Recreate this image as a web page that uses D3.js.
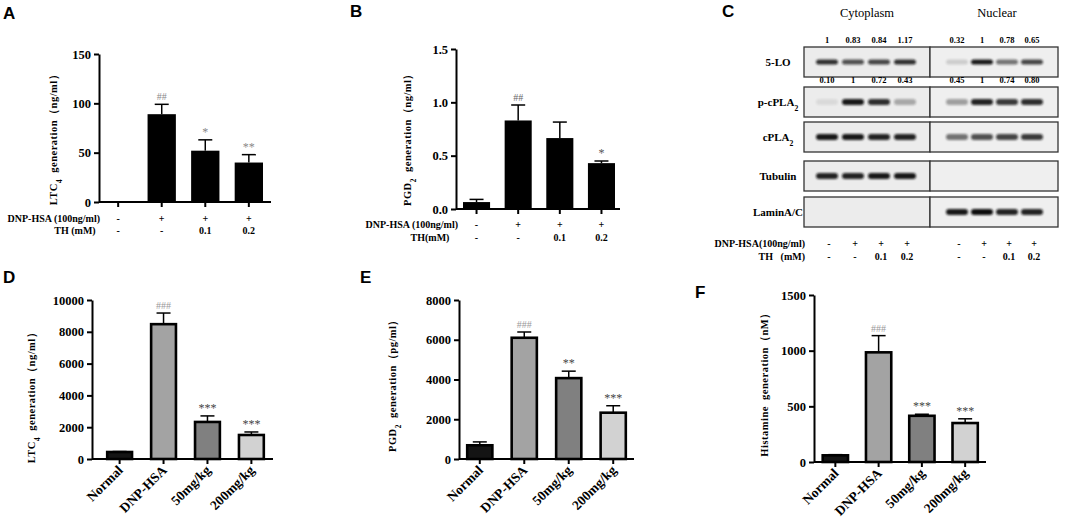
<!DOCTYPE html>
<html>
<head>
<meta charset="utf-8">
<script src="https://cdn.jsdelivr.net/npm/d3@7"></script>
<style>
  body { margin: 0; background: #fff; }
  svg { display: block; }
  text { font-family: 'Liberation Serif', 'DejaVu Serif', serif; }
  text.panel { font-family: 'Liberation Sans', Arial, sans-serif; font-weight: bold; font-size: 17px; }
</style>
</head>
<body>
<div id="chart"></div>
<script>
// Panel A - LTC4 in vitro
const aValues = [0, 89, 52, 40];
const aErrors = [0, 10, 11, 8];
const aMarks = ['', '##', '*', '**'];
const aTicks = [0, 50, 100, 150];

// Panel B - PGD2 in vitro
const bValues = [0.065, 0.83, 0.665, 0.43];
const bErrors = [0.025, 0.145, 0.15, 0.02];
const bMarks = ['', '##', '', '*'];
const bTicks = [0, 0.5, 1.0, 1.5];

// rows under A, B and C
const dnpRow = ['-', '+', '+', '+'];
const thRow = ['-', '-', '0.1', '0.2'];

// Panels D, E, F - in vivo
const groups = ['Normal', 'DNP-HSA', '50mg/kg', '200mg/kg'];
const dValues = [440, 8480, 2330, 1510];
const dErrors = [30, 700, 380, 190];
const dMarks = ['', '###', '***', '***'];
const dTicks = [0, 2000, 4000, 6000, 8000, 10000];

const eValues = [690, 6100, 4070, 2330];
const eErrors = [170, 290, 350, 350];
const eMarks = ['', '###', '**', '***'];
const eTicks = [0, 2000, 4000, 6000, 8000];

const fValues = [60, 985, 415, 350];
const fErrors = [6, 150, 14, 38];
const fMarks = ['', '###', '***', '***'];
const fTicks = [0, 500, 1000, 1500];

// Panel C - western blot
const blotRows = ['5-LO', 'p-cPLA2', 'cPLA2', 'Tubulin', 'LaminA/C'];
const cytoBands = [
  [0.85, 0.7, 0.75, 0.85],
  [0.08, 0.95, 0.85, 0.3],
  [0.95, 0.95, 0.9, 0.9],
  [0.9, 0.9, 0.95, 0.95],
  [0, 0, 0, 0]
];
const nucBands = [
  [0.15, 0.95, 0.55, 0.75],
  [0.35, 0.9, 0.8, 0.85],
  [0.55, 0.7, 0.75, 0.8],
  [0, 0, 0, 0],
  [0.95, 1, 0.9, 0.9]
];
const cytoNums = [['1', '0.83', '0.84', '1.17'], ['0.10', '1', '0.72', '0.43']];
const nucNums = [['0.32', '1', '0.78', '0.65'], ['0.45', '1', '0.74', '0.80']];

const svg = d3.select('#chart').append('svg')
  .attr('width', 1065).attr('height', 528)
  .style('background', '#fff');

const defs = svg.append('defs');
defs.append('filter').attr('id', 'blur')
  .attr('x', '-50%').attr('y', '-100%').attr('width', '200%').attr('height', '300%')
  .append('feGaussianBlur').attr('stdDeviation', 1.3);

function letter(t, x, y) {
  svg.append('text').attr('class', 'panel').attr('x', x).attr('y', y).text(t);
}

// text with a subscript part, e.g. LTC[4]
function subText(sel, parts) {
  parts.forEach(p => {
    const t = sel.append('tspan').text(p[0]);
    if (p[1]) t.attr('baseline-shift', 'sub').attr('font-size', '70%');
  });
}

function barPanel(o) {
  const g = svg.append('g');
  const n = o.values.length;
  const x = d3.scaleBand().domain(d3.range(n)).range(o.xr)
    .paddingInner(o.pad).paddingOuter(0);
  const y = d3.scaleLinear().domain([0, o.max]).range(o.yr);
  const cx = i => x(i) + x.bandwidth() / 2;

  // bars
  g.selectAll('rect.bar').data(o.values).join('rect')
    .attr('class', 'bar')
    .attr('x', (d, i) => x(i) + (o.outline ? 1.2 : 0))
    .attr('width', x.bandwidth() - (o.outline ? 2.4 : 0))
    .attr('y', d => y(d))
    .attr('height', d => y(0) - y(d))
    .attr('fill', (d, i) => o.fills[i])
    .attr('stroke', o.outline ? '#000' : 'none')
    .attr('stroke-width', 2.6);

  // error bars (upper half only)
  const err = g.selectAll('g.err').data(o.values).join('g').attr('class', 'err');
  err.append('line')
    .attr('x1', (d, i) => cx(i)).attr('x2', (d, i) => cx(i))
    .attr('y1', d => y(d)).attr('y2', (d, i) => y(d + o.errors[i]))
    .attr('stroke', '#000').attr('stroke-width', 1.5);
  err.append('line')
    .attr('x1', (d, i) => cx(i) - 7).attr('x2', (d, i) => cx(i) + 7)
    .attr('y1', (d, i) => y(d + o.errors[i])).attr('y2', (d, i) => y(d + o.errors[i]))
    .attr('stroke', '#000').attr('stroke-width', 1.5);

  // significance marks
  g.selectAll('text.mark').data(o.marks).join('text')
    .attr('class', 'mark')
    .attr('x', (d, i) => cx(i))
    .attr('y', (d, i) => y(o.values[i] + o.errors[i]) - 4)
    .attr('text-anchor', 'middle')
    .attr('font-size', d => d[0] === '#' ? 10 : 12)
    .attr('fill', d => d[0] === '#' ? o.hashColor : o.starColor)
    .text(d => d);

  // y axis
  const ya = g.append('g').attr('transform', `translate(${o.ax},0)`)
    .call(d3.axisLeft(y).tickValues(o.ticks).tickSize(5).tickSizeOuter(0).tickFormat(o.fmt));
  ya.attr('font-family', null);
  ya.select('.domain').attr('stroke-width', 2);
  ya.selectAll('.tick line').attr('stroke-width', 2);
  ya.selectAll('.tick text')
    .attr('font-weight', 'bold').attr('font-size', 12.5).attr('fill', '#000');

  // x axis line with ticks under bars
  const xa = g.append('g').attr('transform', `translate(0,${y(0)})`)
    .call(d3.axisBottom(x).tickSize(5).tickSizeOuter(0).tickFormat(''));
  xa.select('.domain').attr('d', `M${o.ax},0H${o.xEnd}`).attr('stroke-width', 2);
  xa.selectAll('.tick line').attr('stroke-width', 2);

  // y label
  const yl = g.append('text')
    .attr('transform', `translate(${o.labelX},${o.labelY}) rotate(-90)`)
    .attr('text-anchor', 'middle')
    .attr('font-weight', 'bold').attr('font-size', 10.5)
    .attr('letter-spacing', 0.5).attr('word-spacing', 3);
  subText(yl, o.label);

  // category labels
  if (o.cats) {
    g.selectAll('text.cat').data(o.cats).join('text')
      .attr('class', 'cat')
      .attr('transform', (d, i) => `translate(${cx(i) + 4},${y(0) + 12}) rotate(-45)`)
      .attr('text-anchor', 'end')
      .attr('font-weight', 'bold').attr('font-size', 13.5)
      .text(d => d);
  }
  if (o.rows) {
    o.rows.forEach(r => {
      g.append('text').attr('x', r.lx).attr('y', r.y)
        .attr('text-anchor', r.anchor)
        .attr('font-weight', 'bold').attr('font-size', 10)
        .text(r.label);
      g.selectAll(null).data(r.vals).join('text')
        .attr('x', (d, i) => cx(i)).attr('y', r.y)
        .attr('text-anchor', 'middle')
        .attr('font-weight', 'bold').attr('font-size', 10)
        .text(d => d);
    });
  }
}

// ---- A ----
letter('A', 3, 19);
barPanel({
  values: aValues, errors: aErrors, marks: aMarks, ticks: aTicks, max: 150,
  xr: [104, 263], pad: 0.35, yr: [202, 54], ax: 99, xEnd: 271,
  fills: ['#000', '#000', '#000', '#000'], outline: false,
  hashColor: '#888', starColor: '#888', fmt: d3.format('d'),
  label: [['LTC'], ['4', true], [' generation（ng/ml）']], labelX: 57, labelY: 137,
  rows: [
    { label: 'DNP-HSA (100ng/ml)', lx: 100, y: 222, anchor: 'end', vals: dnpRow },
    { label: 'TH (mM)', lx: 75, y: 234, anchor: 'middle', vals: thRow }
  ]
});

// ---- B ----
letter('B', 350, 17);
barPanel({
  values: bValues, errors: bErrors, marks: bMarks, ticks: bTicks, max: 1.5,
  xr: [463, 615], pad: 0.35, yr: [209, 49], ax: 456, xEnd: 620,
  fills: ['#000', '#000', '#000', '#000'], outline: false,
  hashColor: '#666', starColor: '#555', fmt: d3.format('.1f'),
  label: [['PGD'], ['2', true], [' generation（ng/ml）']], labelX: 411, labelY: 137,
  rows: [
    { label: 'DNP-HSA (100ng/ml)', lx: 458, y: 228, anchor: 'end', vals: dnpRow },
    { label: 'TH(mM)', lx: 430, y: 241, anchor: 'middle', vals: thRow }
  ]
});

// ---- C ----
letter('C', 722, 17);
(function () {
  const g = svg.append('g');
  const cyto = d3.scalePoint().domain(d3.range(4)).range([827, 905]);
  const nuc = d3.scalePoint().domain(d3.range(4)).range([957, 1032]);
  const boxTop = [47, 87, 122, 161, 197];
  const boxH = 30, bx0 = 804, bx1 = 1058, bxMid = 930;

  g.append('text').attr('x', 867).attr('y', 17).attr('text-anchor', 'middle')
    .attr('font-size', 12.5).text('Cytoplasm');
  g.append('text').attr('x', 997).attr('y', 17).attr('text-anchor', 'middle')
    .attr('font-size', 12.5).text('Nuclear');

  blotRows.forEach((name, r) => {
    const top = boxTop[r];
    g.append('rect').attr('x', bx0).attr('y', top).attr('width', bxMid - bx0).attr('height', boxH)
      .attr('fill', '#ececec').attr('stroke', '#333').attr('stroke-width', 1.3);
    g.append('rect').attr('x', bxMid).attr('y', top).attr('width', bx1 - bxMid).attr('height', boxH)
      .attr('fill', '#efefef').attr('stroke', '#333').attr('stroke-width', 1.3);

    const bandH = r === 0 ? 5 : 6;
    const mid = top + boxH / 2;
    g.selectAll(null).data(cytoBands[r]).join('rect')
      .attr('x', (d, i) => cyto(i) - 11).attr('y', mid - bandH / 2)
      .attr('width', 22).attr('height', bandH).attr('rx', 3)
      .attr('fill', '#111').attr('opacity', d => d)
      .attr('filter', 'url(#blur)');
    g.selectAll(null).data(nucBands[r]).join('rect')
      .attr('x', (d, i) => nuc(i) - 11).attr('y', mid - bandH / 2)
      .attr('width', 22).attr('height', bandH).attr('rx', 3)
      .attr('fill', '#111').attr('opacity', d => d)
      .attr('filter', 'url(#blur)');

    const lab = g.append('text').attr('x', 778).attr('y', mid + 4).attr('text-anchor', 'middle')
      .attr('font-weight', 'bold').attr('font-size', 11);
    if (name.endsWith('PLA2')) subText(lab, [[name.slice(0, -1)], ['2', true]]);
    else lab.text(name);
  });

  // densitometry numbers above first two boxes
  [cytoNums, nucNums].forEach((nums, k) => {
    const sc = k === 0 ? cyto : nuc;
    nums.forEach((row, r) => {
      g.selectAll(null).data(row).join('text')
        .attr('x', (d, i) => sc(i)).attr('y', boxTop[r] - 4)
        .attr('text-anchor', 'middle')
        .attr('font-weight', 'bold').attr('font-size', 8.5)
        .text(d => d);
    });
  });

  // treatment rows
  const rows = [{ label: 'DNP-HSA(100ng/ml)', y: 247, vals: dnpRow },
                { label: 'TH   (mM)', y: 260, vals: thRow }];
  rows.forEach(rw => {
    g.append('text').attr('x', 805).attr('y', rw.y).attr('text-anchor', 'end')
      .attr('xml:space', 'preserve')
      .attr('font-weight', 'bold').attr('font-size', 10)
      .text(rw.label);
    [cyto, nuc].forEach(sc => {
      g.selectAll(null).data(rw.vals).join('text')
        .attr('x', (d, i) => sc(i) + 2).attr('y', rw.y).attr('text-anchor', 'middle')
        .attr('font-weight', 'bold').attr('font-size', 10)
        .text(d => d);
    });
  });
})();

const inVivoFills = ['#141414', '#a3a3a3', '#808080', '#d2d2d2'];

// ---- D ----
letter('D', 3, 283);
barPanel({
  values: dValues, errors: dErrors, marks: dMarks, ticks: dTicks, max: 10000,
  xr: [106, 265], pad: 0.38, yr: [459, 300], ax: 92, xEnd: 273,
  fills: inVivoFills, outline: true,
  hashColor: '#999', starColor: '#444', fmt: d3.format('d'),
  label: [['LTC'], ['4', true], [' generation（ng/ml）']], labelX: 35, labelY: 395,
  cats: groups
});

// ---- E ----
letter('E', 360, 283);
barPanel({
  values: eValues, errors: eErrors, marks: eMarks, ticks: eTicks, max: 8000,
  xr: [466, 627], pad: 0.38, yr: [459, 300], ax: 459, xEnd: 634,
  fills: inVivoFills, outline: true,
  hashColor: '#999', starColor: '#444', fmt: d3.format('d'),
  label: [['PGD'], ['2', true], [' generation（pg/ml）']], labelX: 396, labelY: 383,
  cats: groups
});

// ---- F ----
letter('F', 695, 298);
barPanel({
  values: fValues, errors: fErrors, marks: fMarks, ticks: fTicks, max: 1500,
  xr: [821.5, 979], pad: 0.36, yr: [462, 295], ax: 814, xEnd: 986,
  fills: inVivoFills, outline: true,
  hashColor: '#999', starColor: '#444', fmt: d3.format('d'),
  label: [['Histamine generation（nM）']], labelX: 768, labelY: 382,
  cats: groups
});
</script>
</body>
</html>
